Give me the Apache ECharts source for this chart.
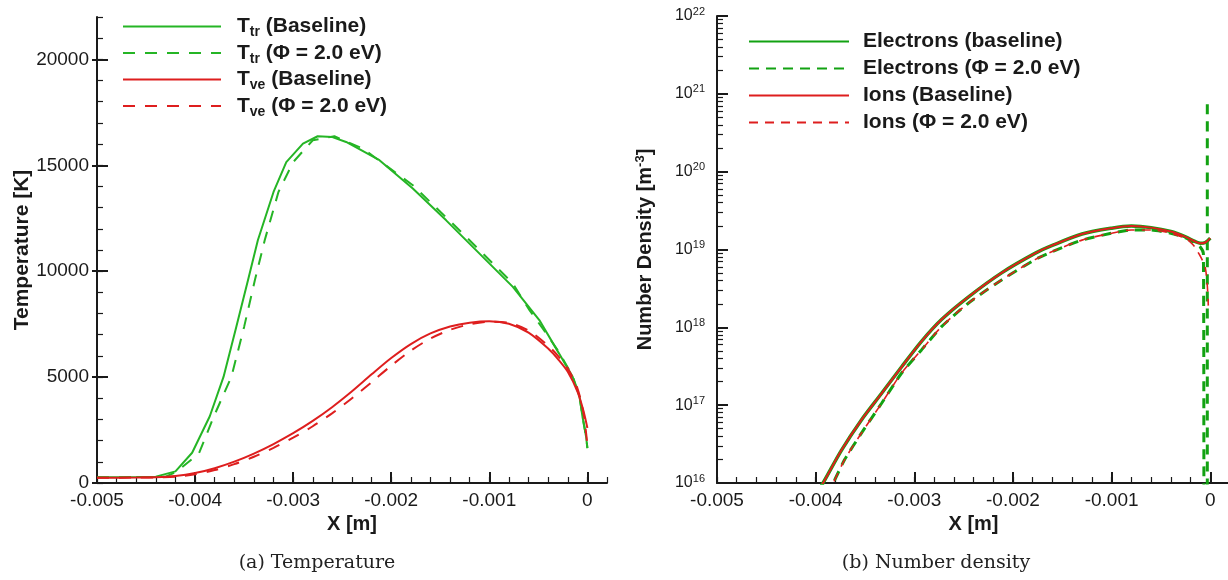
<!DOCTYPE html>
<html>
<head>
<meta charset="utf-8">
<script src="https://cdn.jsdelivr.net/npm/echarts@6/dist/echarts.min.js"></script>
<style>
html,body{margin:0;padding:0;background:#fff;}
#c{width:1228px;height:580px;}
</style>
</head>
<body>
<div id="c"></div>
<script>
// ---------- data (a) Temperature ----------
const xTickValues = [-0.005, -0.004, -0.003, -0.002, -0.001, 0];
const tempTickValues = [0, 5000, 10000, 15000, 20000];

const ttrBaseX = [-0.005,-0.0046,-0.0044,-0.0042,-0.00403,-0.00385,-0.00371,-0.00358,-0.00346,-0.00336,-0.0032,-0.00307,-0.0029,-0.00275,-0.0026,-0.00246,-0.00212,-0.00178,-0.00144,-0.0011,-0.00076,-0.00049,-0.00029,-0.00015,-0.00008,-0.00005,-0.000013,0];
const ttrBaseY = [270,280,300,550,1430,3150,5010,7370,9580,11460,13740,15150,16020,16370,16330,16100,15240,13900,12400,10830,9260,7690,6120,5010,4070,3130,2180,1650];

const ttrPhiX = [-0.005,-0.0046,-0.0044,-0.0043,-0.00419,-0.00396,-0.00381,-0.00363,-0.0035,-0.00339,-0.00329,-0.00315,-0.003,-0.0028,-0.00258,-0.00229,-0.00178,-0.00127,-0.00076,-0.00059,-0.00042,-0.00029,-0.00015,-0.00008,-0.00005,-0.000013,0];
const ttrPhiY = [270,280,290,300,530,1400,3130,5010,7370,9580,11460,13740,15150,16180,16370,15790,14060,11780,9420,8160,7060,6180,5050,4080,3150,2200,1650];

const tveBaseX = [-0.005,-0.0046,-0.0044,-0.0042,-0.004,-0.0038,-0.0036,-0.0034,-0.0032,-0.003,-0.0028,-0.0026,-0.0024,-0.0022,-0.002,-0.0018,-0.0016,-0.0014,-0.0012,-0.001,-0.0008,-0.0006,-0.0004,-0.0003,-0.0002,-0.0001,-0.00004,0];
const tveBaseY = [250,255,270,330,470,700,1010,1390,1840,2350,2930,3590,4330,5130,5900,6560,7060,7390,7570,7640,7520,7100,6350,5850,5250,4300,3400,2600];

const tvePhiX = [-0.005,-0.0046,-0.0044,-0.0042,-0.004,-0.0038,-0.0036,-0.0034,-0.0032,-0.003,-0.0028,-0.0026,-0.0024,-0.0022,-0.002,-0.0018,-0.0016,-0.0014,-0.0012,-0.001,-0.0008,-0.0006,-0.0004,-0.0003,-0.0002,-0.0001,-0.00004,0];
const tvePhiY = [250,255,265,300,410,610,890,1240,1660,2140,2680,3300,4000,4760,5540,6250,6820,7230,7490,7610,7560,7200,6480,6000,5400,4450,3300,1800];

// ---------- data (b) Number density ----------
const elecBaseX = [-0.0040,-0.003925,-0.003739,-0.003536,-0.003333,-0.00313,-0.002927,-0.002724,-0.002453,-0.002115,-0.001777,-0.001607,-0.0013,-0.001,-0.0008,-0.0006,-0.0004,-0.00025,-0.00015,-0.0001,-0.00005,0];
const elecBaseY = [7.08e15,1.0e16,2.63e16,6.46e16,1.41e17,3.09e17,6.61e17,1.26e18,2.45e18,5.01e18,8.91e18,1.12e19,1.58e19,1.88e19,2.0e19,1.91e19,1.70e19,1.45e19,1.26e19,1.20e19,1.23e19,1.40e19];

const ionBaseX = [-0.0040,-0.003925,-0.003739,-0.003536,-0.003333,-0.00313,-0.002927,-0.002724,-0.002453,-0.002115,-0.001777,-0.001607,-0.0013,-0.001,-0.0008,-0.0006,-0.0004,-0.00025,-0.00015,-0.0001,-0.00005,0];
const ionBaseY = [7.08e15,1.0e16,2.63e16,6.46e16,1.41e17,3.09e17,6.61e17,1.26e18,2.45e18,5.01e18,8.91e18,1.12e19,1.58e19,1.88e19,2.0e19,1.91e19,1.70e19,1.45e19,1.26e19,1.20e19,1.23e19,1.40e19];

const elecPhiX = [-0.0039,-0.003823,-0.003706,-0.003536,-0.003333,-0.00313,-0.002927,-0.002724,-0.002453,-0.002115,-0.001777,-0.001607,-0.0013,-0.001,-0.0008,-0.0006,-0.0004,-0.00025,-0.00015,-0.0001,-0.00007,-0.00006,-0.00003,-0.00003];
const elecPhiY = [7.08e15,1.0e16,2.0e16,4.37e16,1.05e17,2.57e17,5.13e17,1.02e18,2.04e18,4.07e18,7.41e18,9.33e18,1.32e19,1.62e19,1.78e19,1.78e19,1.62e19,1.41e19,1.20e19,1.07e19,8.9e18,1e15,1e15,8.3e20];

const ionPhiX = [-0.0039,-0.003823,-0.003706,-0.003536,-0.003333,-0.00313,-0.002927,-0.002724,-0.002453,-0.002115,-0.001777,-0.001607,-0.0013,-0.001,-0.0008,-0.0006,-0.0004,-0.00025,-0.00018,-0.000135,-0.00005,-0.00002];
const ionPhiY = [7.08e15,1.0e16,2.0e16,4.37e16,1.05e17,2.57e17,5.13e17,1.02e18,2.04e18,4.07e18,7.41e18,9.33e18,1.32e19,1.62e19,1.78e19,1.78e19,1.62e19,1.38e19,1.17e19,9.8e18,5.75e18,1.9e18];

// ---------- helpers ----------
const FONT = "'Liberation Sans', Arial, Helvetica, sans-serif";
const GREEN_A = '#25b525', RED = '#de1e1e', GREEN_B = '#12a212', INK = '#1a1a1a';
function pairs(xs, ys) { return xs.map((x, i) => [x, ys[i]]); }

const xMinor = []; for (let i = -25; i <= 1; i++) xMinor.push(+(i * 0.0002).toFixed(5));
const tMinor = []; for (let v = 0; v <= 22000; v += 1000) tMinor.push(v);
const logMinor = []; for (let n = 16; n < 22; n++) for (let k = 2; k <= 9; k++) logMinor.push(n + Math.log10(k));

function mainX(grid) {
  return {
    type: 'value', gridIndex: grid, min: -0.005, max: 0.0002, position: 'bottom', offset: 0,
    axisLine: { show: true, onZero: false, lineStyle: { color: INK, width: 2 } },
    axisTick: { show: true, inside: true, length: 11, customValues: xTickValues, lineStyle: { color: INK, width: 2 } },
    axisLabel: { show: true, customValues: xTickValues, margin: 8, color: INK, fontSize: 19, fontFamily: FONT,
                 formatter: v => String(v) },
    splitLine: { show: false },
    name: 'X [m]', nameLocation: 'middle', nameGap: 28,
    nameTextStyle: { color: INK, fontSize: 20, fontWeight: 'bold', fontFamily: FONT }
  };
}
function minorX(grid) {
  return {
    type: 'value', gridIndex: grid, min: -0.005, max: 0.0002, position: 'bottom', offset: 0,
    axisLine: { show: false, onZero: false },
    axisTick: { show: true, inside: true, length: 6, customValues: xMinor, lineStyle: { color: INK, width: 1.2 } },
    axisLabel: { show: false }, splitLine: { show: false }
  };
}
const smoothSeries = 0.3;

const option = {
  animation: false,
  backgroundColor: '#ffffff',
  textStyle: { fontFamily: FONT },
  grid: [
    { left: 97, top: 17, width: 510, height: 466, containLabel: false, outerBoundsMode: 'none' },
    { left: 717, top: 16, width: 513, height: 467, containLabel: false, outerBoundsMode: 'none' }
  ],
  xAxis: [ mainX(0), minorX(0), mainX(1), minorX(1) ],
  yAxis: [
    { // 0: temperature main
      type: 'value', gridIndex: 0, min: 0, max: 22000, position: 'left', offset: 0,
      axisLine: { show: true, onZero: false, lineStyle: { color: INK, width: 2 } },
      axisTick: { show: true, inside: true, length: 11, customValues: tempTickValues, lineStyle: { color: INK, width: 2 } },
      axisLabel: { show: true, customValues: tempTickValues, margin: 8, color: INK, fontSize: 19, fontFamily: FONT,
                   formatter: v => String(v) },
      splitLine: { show: false },
      name: 'Temperature [K]', nameLocation: 'middle', nameGap: 62, nameRotate: 90,
      nameTextStyle: { color: INK, fontSize: 21, fontWeight: 'bold', fontFamily: FONT }
    },
    { // 1: temperature minor ticks
      type: 'value', gridIndex: 0, min: 0, max: 22000, position: 'left', offset: 0,
      axisLine: { show: false, onZero: false },
      axisTick: { show: true, inside: true, length: 6, customValues: tMinor, lineStyle: { color: INK, width: 1.2 } },
      axisLabel: { show: false }, splitLine: { show: false }
    },
    { // 2: temperature outer part of major ticks
      type: 'value', gridIndex: 0, min: 0, max: 22000, position: 'left', offset: 0,
      axisLine: { show: false, onZero: false },
      axisTick: { show: true, inside: false, length: 5, customValues: tempTickValues, lineStyle: { color: INK, width: 2 } },
      axisLabel: { show: false }, splitLine: { show: false }
    },
    { // 3: number density main (log)
      type: 'log', logBase: 10, gridIndex: 1, min: 1e16, max: 1e22, position: 'left', offset: 0, splitNumber: 6,
      axisLine: { show: true, onZero: false, lineStyle: { color: INK, width: 2 } },
      axisTick: { show: true, inside: true, length: 11, lineStyle: { color: INK, width: 2 } },
      axisLabel: {
        show: true, margin: 12, color: INK, fontFamily: FONT,
        formatter: v => '{b|10}{s|' + Math.round(Math.log10(v)) + '}',
        rich: {
          b: { fontSize: 16, lineHeight: 20, color: INK, fontFamily: FONT },
          s: { fontSize: 11, lineHeight: 6, verticalAlign: 'top', color: INK, fontFamily: FONT }
        }
      },
      splitLine: { show: false }, minorTick: { show: false },
      name: '{t|Number Density [m}{s|-3}{t|]}', nameLocation: 'middle', nameGap: 61, nameRotate: 90,
      nameTextStyle: {
        color: INK, fontFamily: FONT,
        rich: {
          t: { fontSize: 20, fontWeight: 'bold', lineHeight: 22, color: INK, fontFamily: FONT },
          s: { fontSize: 13, fontWeight: 'bold', lineHeight: 8, verticalAlign: 'top', color: INK, fontFamily: FONT }
        }
      }
    },
    { // 4: number density minor log ticks (exponent space)
      type: 'value', gridIndex: 1, min: 16, max: 22, position: 'left', offset: 0,
      axisLine: { show: false, onZero: false },
      axisTick: { show: true, inside: true, length: 6, customValues: logMinor, lineStyle: { color: INK, width: 1.2 } },
      axisLabel: { show: false }, splitLine: { show: false }
    }
  ],
  legend: [
    {
      left: 122, top: 16, orient: 'vertical', padding: 0, itemGap: 3, itemWidth: 98, itemHeight: 14,
      selectedMode: false,
      itemStyle: { color: 'rgba(0,0,0,0)', borderColor: 'rgba(0,0,0,0)', borderWidth: 0 },
      data: ['T_tr (Baseline)', 'T_tr (Phi)', 'T_ve (Baseline)', 'T_ve (Phi)'],
      formatter: function (name) {
        const m = {
          'T_tr (Baseline)': '{p|T}{s|tr}{b| (Baseline)}',
          'T_tr (Phi)': '{p|T}{s|tr}{b| (Φ = 2.0 eV)}',
          'T_ve (Baseline)': '{p|T}{s|ve}{b| (Baseline)}',
          'T_ve (Phi)': '{p|T}{s|ve}{b| (Φ = 2.0 eV)}'
        };
        return m[name];
      },
      textStyle: {
        color: INK, fontSize: 21, fontWeight: 'bold', fontFamily: FONT,
        rich: {
          p: { fontSize: 21, fontWeight: 'bold', lineHeight: 26, padding: [0, 0, 0, 11], color: INK, fontFamily: FONT },
          b: { fontSize: 21, fontWeight: 'bold', lineHeight: 26, color: INK, fontFamily: FONT },
          s: { fontSize: 14, fontWeight: 'bold', lineHeight: 6, verticalAlign: 'bottom', color: INK, fontFamily: FONT }
        }
      }
    },
    {
      left: 748, top: 31, orient: 'vertical', padding: 0, itemGap: 6, itemWidth: 100, itemHeight: 14,
      selectedMode: false,
      itemStyle: { color: 'rgba(0,0,0,0)', borderColor: 'rgba(0,0,0,0)', borderWidth: 0 },
      data: ['Electrons (baseline)', 'Electrons (Φ = 2.0 eV)', 'Ions (Baseline)', 'Ions (Φ = 2.0 eV)'],
      formatter: name => '{p|' + name + '}',
      textStyle: {
        color: INK, fontSize: 21, fontWeight: 'bold', fontFamily: FONT,
        rich: { p: { fontSize: 21, fontWeight: 'bold', lineHeight: 26, padding: [0, 0, 0, 9], color: INK, fontFamily: FONT } }
      }
    }
  ],
  graphic: [
    { type: 'text', x: 317, y: 563, style: { text: '(a) Temperature', fontSize: 19, fontFamily: "'DejaVu Serif', serif", fill: '#222', align: 'center', verticalAlign: 'middle' } },
    { type: 'text', x: 936, y: 563, style: { text: '(b) Number density', fontSize: 19, fontFamily: "'DejaVu Serif', serif", fill: '#222', align: 'center', verticalAlign: 'middle' } }
  ],
  series: [
    { name: 'T_tr (Baseline)', type: 'line', xAxisIndex: 0, yAxisIndex: 0, symbol: 'none', data: pairs(ttrBaseX, ttrBaseY),
      lineStyle: { color: GREEN_A, width: 2 }, itemStyle: { color: GREEN_A } },
    { name: 'T_tr (Phi)', type: 'line', xAxisIndex: 0, yAxisIndex: 0, symbol: 'none', data: pairs(ttrPhiX, ttrPhiY),
      lineStyle: { color: GREEN_A, width: 2, type: [12, 10] }, itemStyle: { color: GREEN_A } },
    { name: 'T_ve (Baseline)', type: 'line', xAxisIndex: 0, yAxisIndex: 0, symbol: 'none', smooth: smoothSeries, data: pairs(tveBaseX, tveBaseY),
      lineStyle: { color: RED, width: 2 }, itemStyle: { color: RED } },
    { name: 'T_ve (Phi)', type: 'line', xAxisIndex: 0, yAxisIndex: 0, symbol: 'none', smooth: smoothSeries, data: pairs(tvePhiX, tvePhiY),
      lineStyle: { color: RED, width: 2, type: [12, 10] }, itemStyle: { color: RED } },

    { name: 'Electrons (baseline)', type: 'line', xAxisIndex: 2, yAxisIndex: 3, symbol: 'none', smooth: smoothSeries, data: pairs(elecBaseX, elecBaseY),
      lineStyle: { color: GREEN_B, width: 3.5 }, itemStyle: { color: GREEN_B } },
    { name: 'Electrons (Φ = 2.0 eV)', type: 'line', xAxisIndex: 2, yAxisIndex: 3, symbol: 'none', smooth: 0.2, data: pairs(elecPhiX, elecPhiY),
      lineStyle: { color: GREEN_B, width: 3, type: [10, 7] }, itemStyle: { color: GREEN_B } },
    { name: 'Ions (Baseline)', type: 'line', xAxisIndex: 2, yAxisIndex: 3, symbol: 'none', smooth: smoothSeries, data: pairs(ionBaseX, ionBaseY),
      lineStyle: { color: RED, width: 2 }, itemStyle: { color: RED } },
    { name: 'Ions (Φ = 2.0 eV)', type: 'line', xAxisIndex: 2, yAxisIndex: 3, symbol: 'none', smooth: smoothSeries, data: pairs(ionPhiX, ionPhiY),
      lineStyle: { color: RED, width: 1.6, type: [9, 7] }, itemStyle: { color: RED } }
  ]
};

const chart = echarts.init(document.getElementById('c'), null, { renderer: 'canvas' });
chart.setOption(option);
</script>
</body>
</html>
